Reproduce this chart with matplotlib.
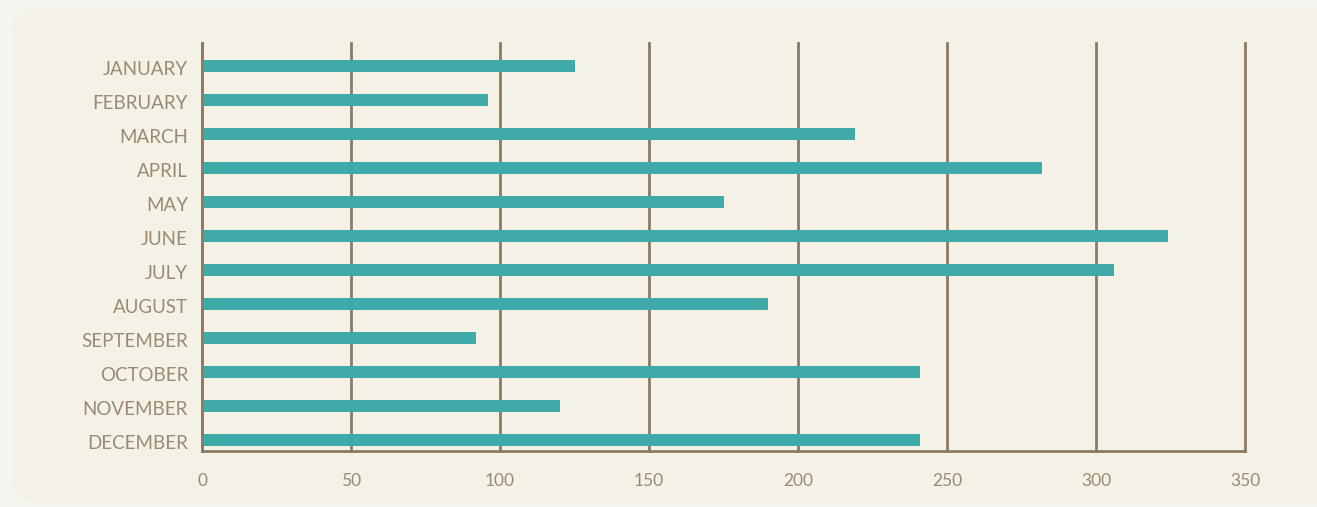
import matplotlib
matplotlib.use("Agg")
import matplotlib.pyplot as plt
import matplotlib.transforms as mtransforms
from matplotlib.patches import FancyBboxPatch

# Monthly values
months = ["JANUARY", "FEBRUARY", "MARCH", "APRIL", "MAY", "JUNE",
          "JULY", "AUGUST", "SEPTEMBER", "OCTOBER", "NOVEMBER", "DECEMBER"]
values = [125, 96, 219, 282, 175, 324, 306, 190, 92, 241, 120, 241]
x_ticks = [0, 50, 100, 150, 200, 250, 300, 350]

BAR = "#40aaa9"
LINE = "#8c7a62"
TEXT = "#9a8a74"

plt.rcParams["font.family"] = ["Lato", "DejaVu Sans"]

fig = plt.figure(figsize=(13.17, 5.07), dpi=100)
fig.patch.set_facecolor("#f5f4ef")

# rounded panel behind the chart
panel = FancyBboxPatch((12 / 1317, 4 / 507), 1.2, 495 / 507,
                       boxstyle="round,pad=0,rounding_size=0.022",
                       transform=fig.transFigure, facecolor="#f4f1e7",
                       edgecolor="none", zorder=-10, mutation_aspect=1317 / 507)
fig.patches.append(panel)

ax = fig.add_axes([202 / 1317, 56 / 507, 1043 / 1317, 408 / 507])
ax.set_facecolor("none")

ypos = list(range(len(months)))
ax.barh(ypos, values, height=0.36, color=BAR, zorder=3)

ax.set_xlim(0, 350)
ax.set_ylim(11.324, -0.676)
ax.set_xticks(x_ticks)
ax.set_yticks(ypos)
ax.set_yticklabels(months)

ax.grid(axis="x", color=LINE, linewidth=2, zorder=1)
ax.grid(axis="y", visible=False)
for gl in ax.xaxis.get_gridlines():
    gl.set_clip_on(False)
for side in ["top", "right"]:
    ax.spines[side].set_visible(False)
for side in ["left", "bottom"]:
    ax.spines[side].set_color(LINE)
    ax.spines[side].set_linewidth(2)
    ax.spines[side].set_zorder(4)

ax.tick_params(axis="y", length=0, pad=10, labelsize=13.5, labelcolor=TEXT)
ax.tick_params(axis="x", length=0, pad=16, labelsize=12.5, labelcolor=TEXT)

# nudge month labels down a touch, as in the reference
shift = mtransforms.ScaledTranslation(0, -2 / 100, fig.dpi_scale_trans)
for lbl in ax.get_yticklabels():
    lbl.set_transform(lbl.get_transform() + shift)

fig.savefig("out.png", dpi=100, facecolor=fig.get_facecolor())
